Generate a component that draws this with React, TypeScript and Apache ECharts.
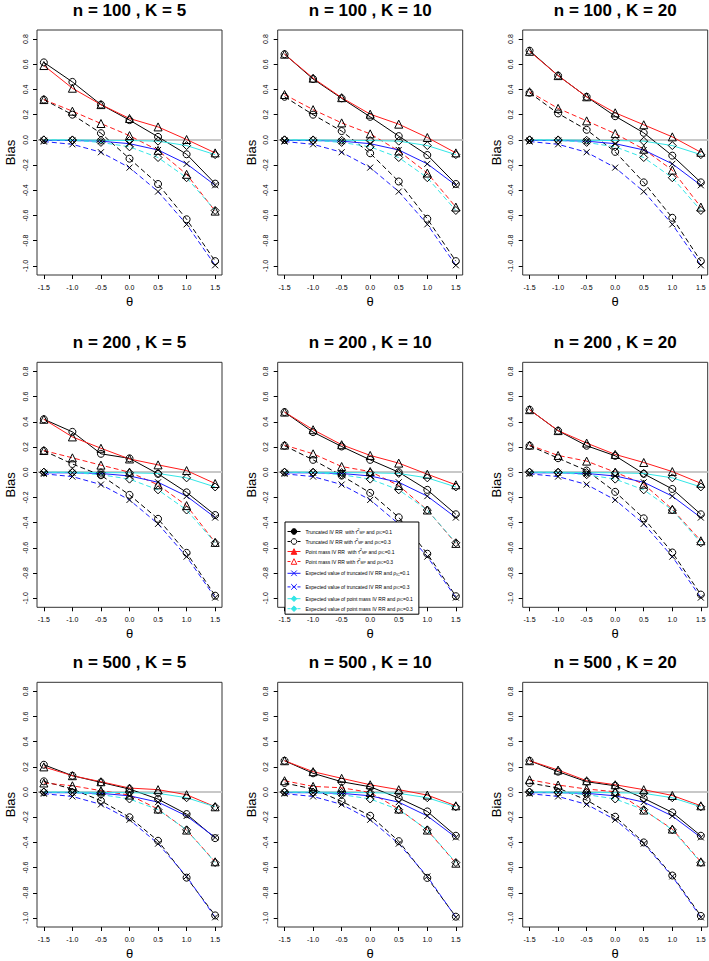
import { useEffect, useRef } from "react";
import * as echarts from "echarts";

// ---------- data ----------
const theta = [-1.5, -1.0, -0.5, 0.0, 0.5, 1.0, 1.5];
const xTicks = [-1.5, -1.0, -0.5, 0.0, 0.5, 1.0, 1.5];
const yTicks = [-1.0, -0.8, -0.6, -0.4, -0.2, 0.0, 0.2, 0.4, 0.6, 0.8];
const sampleSizes = [100, 200, 500];
const clusterCounts = [5, 10, 20];

// expected values (same in every panel)
const expTrunc01 = [-0.005, -0.005, -0.01, -0.03, -0.08, -0.19, -0.36];
const expTrunc03 = [-0.013, -0.035, -0.098, -0.22, -0.41, -0.67, -0.995];
const expPoint01 = [0.0, 0.0, -0.003, -0.005, -0.01, -0.045, -0.117];
const expPoint03 = [0.0, -0.003, -0.02, -0.055, -0.14, -0.3, -0.56];

// n = 100
const n100K5Trunc01 = [0.615, 0.46, 0.28, 0.157, 0.024, -0.114, -0.347];
const n100K5Trunc03 = [0.32, 0.2, 0.053, -0.149, -0.35, -0.63, -0.962];
const n100K5Point01 = [0.59, 0.41, 0.28, 0.17, 0.103, 0.003, -0.103];
const n100K5Point03 = [0.32, 0.228, 0.13, 0.034, -0.083, -0.273, -0.565];

const n100K10Trunc01 = [0.68, 0.483, 0.33, 0.183, 0.03, -0.12, -0.35];
const n100K10Trunc03 = [0.342, 0.2, 0.07, -0.106, -0.33, -0.626, -0.962];
const n100K10Point01 = [0.68, 0.49, 0.335, 0.204, 0.125, 0.019, -0.103];
const n100K10Point03 = [0.36, 0.24, 0.135, 0.048, -0.088, -0.263, -0.533];

const n100K20Trunc01 = [0.708, 0.51, 0.342, 0.188, 0.056, -0.125, -0.337];
const n100K20Trunc03 = [0.374, 0.21, 0.08, -0.095, -0.337, -0.618, -0.962];
const n100K20Point01 = [0.703, 0.51, 0.342, 0.215, 0.12, 0.024, -0.098];
const n100K20Point03 = [0.382, 0.25, 0.151, 0.05, -0.074, -0.24, -0.533];

// n = 200
const n200K5Trunc01 = [0.42, 0.32, 0.146, 0.11, -0.013, -0.16, -0.34];
const n200K5Trunc03 = [0.17, 0.065, -0.024, -0.18, -0.37, -0.64, -0.98];
const n200K5Point01 = [0.42, 0.28, 0.19, 0.105, 0.058, 0.013, -0.09];
const n200K5Point03 = [0.172, 0.114, 0.056, 0.0, -0.1, -0.265, -0.557];

const n200K10Trunc01 = [0.477, 0.318, 0.204, 0.098, 0.0, -0.14, -0.334];
const n200K10Trunc03 = [0.21, 0.098, -0.027, -0.164, -0.358, -0.647, -0.984];
const n200K10Point01 = [0.477, 0.337, 0.218, 0.133, 0.072, -0.016, -0.1];
const n200K10Point03 = [0.215, 0.146, 0.045, 0.005, -0.106, -0.3, -0.565];

const n200K20Trunc01 = [0.496, 0.329, 0.21, 0.13, -0.013, -0.133, -0.334];
const n200K20Trunc03 = [0.21, 0.111, 0.013, -0.156, -0.366, -0.637, -0.971];
const n200K20Point01 = [0.496, 0.33, 0.231, 0.141, 0.077, 0.005, -0.088];
const n200K20Point03 = [0.215, 0.133, 0.088, 0.0, -0.095, -0.294, -0.544];

// n = 500
const n500K5Trunc01 = [0.217, 0.13, 0.077, 0.024, -0.056, -0.175, -0.366];
const n500K5Trunc03 = [0.085, 0.024, -0.069, -0.2, -0.387, -0.68, -0.98];
const n500K5Point01 = [0.2, 0.13, 0.082, 0.032, 0.019, -0.021, -0.117];
const n500K5Point03 = [0.072, 0.05, 0.011, -0.024, -0.135, -0.302, -0.554];

const n500K10Trunc01 = [0.249, 0.149, 0.082, 0.042, -0.048, -0.154, -0.347];
const n500K10Trunc03 = [0.072, 0.024, -0.074, -0.188, -0.39, -0.682, -0.99];
const n500K10Point01 = [0.249, 0.162, 0.109, 0.058, 0.019, -0.024, -0.109];
const n500K10Point03 = [0.09, 0.045, 0.034, -0.003, -0.135, -0.302, -0.565];

const n500K20Trunc01 = [0.249, 0.162, 0.082, 0.05, -0.05, -0.162, -0.347];
const n500K20Trunc03 = [0.072, 0.032, -0.064, -0.196, -0.4, -0.663, -0.984];
const n500K20Point01 = [0.249, 0.175, 0.09, 0.058, 0.019, -0.027, -0.109];
const n500K20Point03 = [0.098, 0.056, 0.024, 0.003, -0.143, -0.294, -0.554];

const panelValues: number[][][] = [
  [n100K5Trunc01, n100K5Trunc03, n100K5Point01, n100K5Point03],
  [n100K10Trunc01, n100K10Trunc03, n100K10Point01, n100K10Point03],
  [n100K20Trunc01, n100K20Trunc03, n100K20Point01, n100K20Point03],
  [n200K5Trunc01, n200K5Trunc03, n200K5Point01, n200K5Point03],
  [n200K10Trunc01, n200K10Trunc03, n200K10Point01, n200K10Point03],
  [n200K20Trunc01, n200K20Trunc03, n200K20Point01, n200K20Point03],
  [n500K5Trunc01, n500K5Trunc03, n500K5Point01, n500K5Point03],
  [n500K10Trunc01, n500K10Trunc03, n500K10Point01, n500K10Point03],
  [n500K20Trunc01, n500K20Trunc03, n500K20Point01, n500K20Point03],
];

const legendNames = [
  "Truncated IV RR  with τ̂²MP and ρIC=0.1",
  "Truncated IV RR with τ̂²MP and ρIC=0.3",
  "Point mass IV RR  with τ̂²MP and ρIC=0.1",
  "Point mass IV RR with τ̂²MP and ρIC=0.3",
  "Expected value of truncated IV RR and ρIC=0.1",
  "Expected value of truncated IV RR and ρIC=0.3",
  "Expected value of point mass IV RR and ρIC=0.1",
  "Expected value of point mass IV RR and ρIC=0.3",
];
const legendRich = [
  "Truncated IV RR  with τ̂{sup|2}{sub|MP} and ρ{sub|IC}=0.1",
  "Truncated IV RR with τ̂{sup|2}{sub|MP} and ρ{sub|IC}=0.3",
  "Point mass IV RR  with τ̂{sup|2}{sub|MP} and ρ{sub|IC}=0.1",
  "Point mass IV RR with τ̂{sup|2}{sub|MP} and ρ{sub|IC}=0.3",
  "Expected value of truncated IV RR and ρ{sub|IC}=0.1",
  "Expected value of truncated IV RR and ρ{sub|IC}=0.3",
  "Expected value of point mass IV RR and ρ{sub|IC}=0.1",
  "Expected value of point mass IV RR and ρ{sub|IC}=0.3",
];

// ---------- styling ----------
const FONT = '"Liberation Sans", Arial, Helvetica, sans-serif';
const X_SYMBOL = "path://M0,0L10,10M10,0L0,10";
const RED = "#ff1a1a";
const BLUE = "#1a1aff";
const CYAN = "#33e6e6";
const styles = [
  { color: "#000", dash: false, symbol: "circle", size: 7, legendFill: "#000" },
  { color: "#000", dash: true, symbol: "circle", size: 7, legendFill: "#fff" },
  { color: RED, dash: false, symbol: "triangle", size: 8, legendFill: RED },
  { color: RED, dash: true, symbol: "triangle", size: 8, legendFill: "#fff" },
  { color: BLUE, dash: false, symbol: X_SYMBOL, size: 6, legendFill: "none" },
  { color: BLUE, dash: true, symbol: X_SYMBOL, size: 6, legendFill: "none" },
  { color: CYAN, dash: false, symbol: "diamond", size: 8, legendFill: CYAN },
  { color: CYAN, dash: true, symbol: "diamond", size: 8, legendFill: CYAN },
];

const colLeft = [37, 277.7, 522.7];
const rowTop = [30, 362.3, 682.3];
const boxW = 185;
const boxH = 245;

function buildOption() {
  const grids: any[] = [];
  const xAxes: any[] = [];
  const yAxes: any[] = [];
  const series: any[] = [];
  const graphics: any[] = [];

  sampleSizes.forEach((n, r) => {
    clusterCounts.forEach((K, c) => {
      const idx = r * 3 + c;
      const left = colLeft[c];
      const top = rowTop[r];
      grids.push({
        left,
        top,
        width: boxW,
        height: boxH,
        show: true,
        borderColor: "#333",
        borderWidth: 1,
        backgroundColor: "#fff",
        containLabel: false,
      });
      xAxes.push({
        gridIndex: idx,
        type: "value",
        position: "bottom",
        min: -1.62,
        max: 1.62,
        axisLine: { show: false, onZero: false },
        splitLine: { show: false },
        axisTick: {
          show: true,
          inside: false,
          length: 4,
          customValues: xTicks,
          lineStyle: { color: "#000", width: 1 },
        },
        axisLabel: {
          customValues: xTicks,
          formatter: (v: number) => v.toFixed(1),
          fontSize: 7,
          fontFamily: FONT,
          color: "#000",
          margin: 8.5,
        },
        name: "θ",
        nameLocation: "middle",
        nameGap: 20,
        nameTextStyle: { fontSize: 13, fontFamily: FONT, color: "#000" },
      });
      yAxes.push({
        gridIndex: idx,
        type: "value",
        position: "left",
        min: -1.072,
        max: 0.872,
        axisLine: { show: false, onZero: false },
        splitLine: { show: false },
        axisTick: {
          show: true,
          inside: false,
          length: 4,
          customValues: yTicks,
          lineStyle: { color: "#000", width: 1 },
        },
        axisLabel: {
          customValues: yTicks,
          formatter: (v: number) => v.toFixed(1),
          fontSize: 7,
          fontFamily: FONT,
          color: "#000",
          rotate: 90,
          margin: 8.5,
        },
        name: "Bias",
        nameLocation: "middle",
        nameGap: 20,
        nameTextStyle: { fontSize: 13, fontFamily: FONT, color: "#000" },
      });

      const vals = [
        panelValues[idx][0],
        panelValues[idx][1],
        panelValues[idx][2],
        panelValues[idx][3],
        expTrunc01,
        expTrunc03,
        expPoint01,
        expPoint03,
      ];
      vals.forEach((arr, s) => {
        const st = styles[s];
        const ser: any = {
          type: "line",
          name: legendNames[s],
          xAxisIndex: idx,
          yAxisIndex: idx,
          data: theta.map((t, i) => [t, arr[i]]),
          symbol: st.symbol,
          symbolSize: st.size,
          showSymbol: true,
          showAllSymbol: true,
          lineStyle: {
            color: st.color,
            width: 1,
            type: st.dash ? [5, 3] : "solid",
          },
          itemStyle: {
            color: "rgba(0,0,0,0)",
            borderColor: "#000",
            borderWidth: 1,
          },
          emphasis: { disabled: true },
          z: 3,
        };
        if (s === 0) {
          ser.markLine = {
            silent: true,
            symbol: "none",
            label: { show: false },
            lineStyle: { color: "#c8c8c8", width: 2, type: "solid" },
            data: [{ yAxis: 0 }],
            z: 1,
          };
        }
        series.push(ser);
      });

      graphics.push({
        type: "text",
        x: left + boxW / 2,
        y: top - 19.5,
        style: {
          text: `n = ${n} , K = ${K}`,
          fontSize: 17,
          fontWeight: "bold",
          fontFamily: FONT,
          fill: "#000",
          align: "center",
          verticalAlign: "middle",
        },
      });
    });
  });

  const legendData = legendNames.map((name, i) => ({
    name,
    itemStyle: {
      color: styles[i].legendFill,
      borderColor: styles[i].color,
      borderWidth: 1,
    },
    lineStyle: {
      color: styles[i].color,
      width: 1,
      type: styles[i].dash ? [3, 2] : "solid",
    },
  }));

  return {
    animation: false,
    backgroundColor: "#fff",
    grid: grids,
    xAxis: xAxes,
    yAxis: yAxes,
    series,
    graphic: graphics,
    legend: {
      show: true,
      orient: "vertical",
      left: 285,
      top: 522,
      selectedMode: false,
      data: legendData,
      itemWidth: 13,
      itemHeight: 7,
      itemGap: 3,
      padding: [6, 6, 2, 2],
      borderColor: "#000",
      borderWidth: 1,
      backgroundColor: "#fff",
      formatter: (name: string) => legendRich[legendNames.indexOf(name)],
      textStyle: {
        fontSize: 5,
        fontFamily: FONT,
        color: "#000",
        lineHeight: 7,
        rich: {
          sub: { fontSize: 3.5, lineHeight: 3.5, verticalAlign: "bottom", fontFamily: FONT, color: "#000" },
          sup: { fontSize: 3.5, lineHeight: 3.5, verticalAlign: "top", fontFamily: FONT, color: "#000" },
        },
      },
      z: 10,
    },
  };
}

export default function App() {
  const ref = useRef<HTMLDivElement>(null);
  useEffect(() => {
    if (!ref.current) return;
    const chart = echarts.init(ref.current, null, { renderer: "svg" });
    chart.setOption(buildOption() as any);
    return () => chart.dispose();
  }, []);
  return (
    <div
      ref={ref}
      style={{ position: "absolute", left: 0, top: 0, width: 709, height: 961 }}
    />
  );
}
